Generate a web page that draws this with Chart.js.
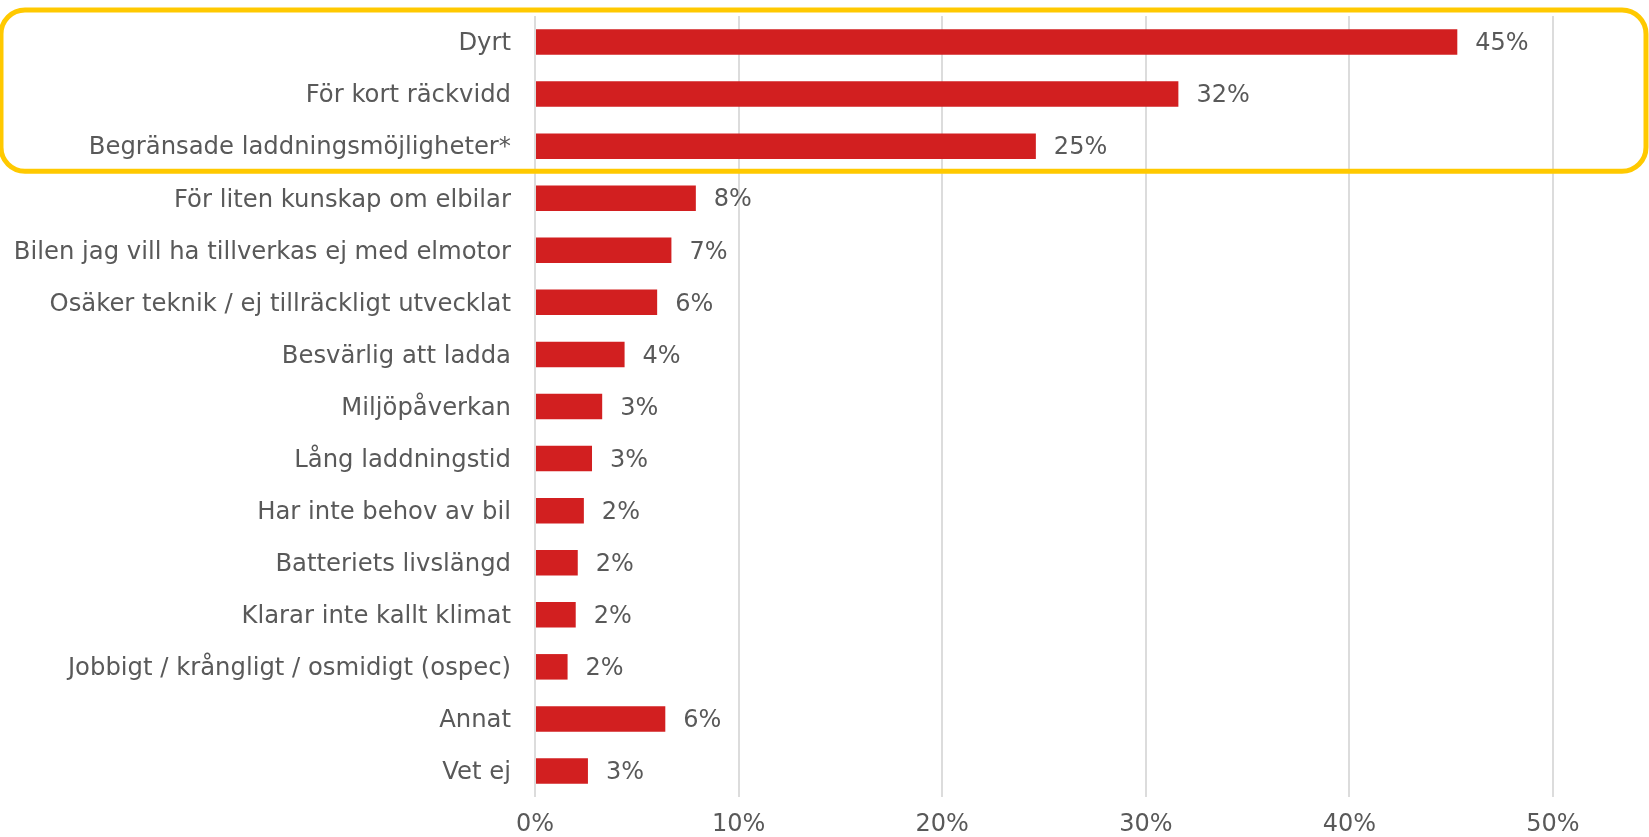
<!DOCTYPE html>
<html>
<head>
<meta charset="utf-8">
<script src="https://cdn.jsdelivr.net/npm/chart.js@4/dist/chart.umd.min.js"></script>
<style>
  html, body { margin: 0; padding: 0; background: #fff; }
  #wrap { width: 1649px; height: 837px; position: relative; }
</style>
</head>
<body>
<div id="wrap"><canvas id="chart"></canvas></div>
<script>
'use strict';

const CATEGORIES = [
  'Dyrt',
  'För kort räckvidd',
  'Begränsade laddningsmöjligheter*',
  'För liten kunskap om elbilar',
  'Bilen jag vill ha tillverkas ej med elmotor',
  'Osäker teknik / ej tillräckligt utvecklat',
  'Besvärlig att ladda',
  'Miljöpåverkan',
  'Lång laddningstid',
  'Har inte behov av bil',
  'Batteriets livslängd',
  'Klarar inte kallt klimat',
  'Jobbigt / krångligt / osmidigt (ospec)',
  'Annat',
  'Vet ej',
];

// percent
const VALUES = [45.3, 31.6, 24.6, 7.9, 6.7, 6.0, 4.4, 3.3, 2.8, 2.4, 2.1, 2.0, 1.6, 6.4, 2.6];

// the printed labels next to each bar
const VALUE_LABELS = ['45%', '32%', '25%', '8%', '7%', '6%', '4%', '3%', '3%', '2%', '2%', '2%', '2%', '6%', '3%'];

const X_TICKS = [0, 10, 20, 30, 40, 50];

const TEXT = '#595959';
const RED = '#d21f20';
const FONT = '"DejaVu Sans", Verdana, sans-serif';

// ── Value labels at the end of each bar ─────────────────────────────────────
const valueLabels = {
  id: 'valueLabels',
  afterDatasetsDraw(chart) {
    const ctx = chart.ctx;
    const meta = chart.getDatasetMeta(0);
    ctx.save();
    ctx.font = `24px ${FONT}`;
    ctx.fillStyle = TEXT;
    ctx.textAlign = 'left';
    ctx.textBaseline = 'middle';
    meta.data.forEach((bar, i) => {
      ctx.fillText(VALUE_LABELS[i], bar.x + 18, bar.y + 2);
    });
    ctx.restore();
  },
};

// ── Yellow rounded box around the top three answers ────────────────────────
const highlightBox = {
  id: 'highlightBox',
  afterDraw(chart) {
    const y = chart.scales.y;
    const band = y.getPixelForValue(1) - y.getPixelForValue(0);
    const top = y.getPixelForValue(0) - band / 2 - 6;
    const bottom = y.getPixelForValue(2) + band / 2 - 1;
    const left = 1;
    const right = chart.width - 3;
    const ctx = chart.ctx;
    ctx.save();
    ctx.strokeStyle = '#ffc900';
    ctx.lineWidth = 5;
    ctx.beginPath();
    ctx.roundRect(left, top, right - left, bottom - top, 24);
    ctx.stroke();
    ctx.restore();
  },
};

new Chart(document.getElementById('chart').getContext('2d'), {
  type: 'bar',
  data: {
    labels: CATEGORIES,
    datasets: [{
      data: VALUES,
      backgroundColor: RED,
      borderWidth: 0,
      barPercentage: 0.49,
      categoryPercentage: 1,
    }],
  },
  options: {
    indexAxis: 'y',
    responsive: true,
    maintainAspectRatio: false,
    animation: false,
    layout: { padding: { top: 16, right: 96, left: 0, bottom: 0 } },
    plugins: {
      legend: { display: false },
      tooltip: { enabled: false },
    },
    scales: {
      x: {
        min: 0,
        max: 50,
        afterBuildTicks: scale => { scale.ticks = X_TICKS.map(v => ({ value: v })); },
        afterFit: scale => { scale.height = 40; },
        grid: { color: '#dcdcdc', lineWidth: 2, drawTicks: false },
        border: { display: false },
        ticks: {
          padding: 13,
          color: TEXT,
          font: { family: FONT, size: 24 },
          callback: v => v + '%',
        },
      },
      y: {
        afterFit: scale => {
          scale.width = 535;
          scale.paddingTop = 0;
          scale.paddingBottom = 0;
        },
        grid: { display: false, drawTicks: false },
        border: { display: false },
        ticks: {
          padding: 24,
          labelOffset: 2,
          color: TEXT,
          font: { family: FONT, size: 24.3 },
          autoSkip: false,
        },
      },
    },
  },
  plugins: [valueLabels, highlightBox],
});
</script>
</body>
</html>
